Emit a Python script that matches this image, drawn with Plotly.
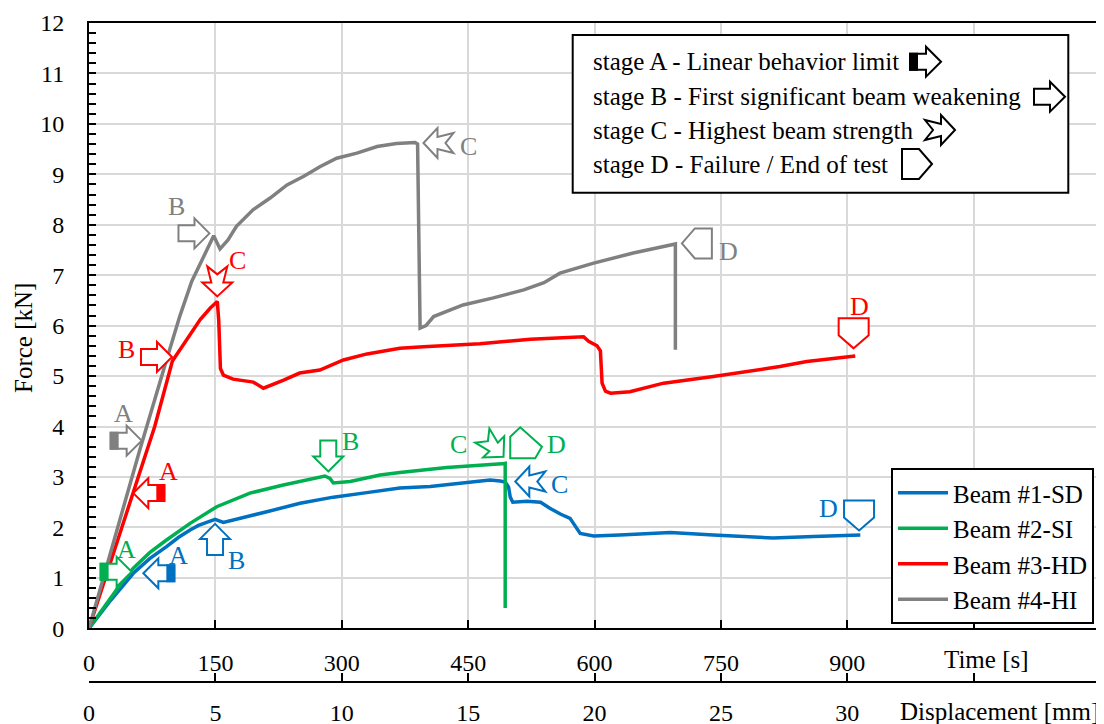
import math
import plotly.graph_objects as go

FONT = "Liberation Serif"

# ---------------- data (time in s, force in kN) ----------------
t_sd = [0, 26, 52.6, 72, 92, 106, 120, 130, 139.7, 149.6, 159.5, 167.4, 190, 211, 250.5, 290, 329.7, 369,
        405, 444, 476, 488, 494, 498, 500, 503, 520, 536, 547, 560, 571, 583, 599, 630, 662, 690, 741, 773,
        812, 860, 915.5]
f_sd = [0, 0.56, 1.09, 1.38, 1.62, 1.80, 1.95, 2.04, 2.10, 2.16, 2.10, 2.13, 2.22, 2.31, 2.48, 2.60, 2.69, 2.78,
        2.81, 2.88, 2.94, 2.92, 2.90, 2.80, 2.60, 2.50, 2.52, 2.50, 2.38, 2.26, 2.18, 1.88, 1.83, 1.85, 1.88, 1.90,
        1.85, 1.83, 1.79, 1.82, 1.85]

t_si = [0, 13, 26, 39, 52.6, 72, 92, 120, 151.6, 191, 230.7, 280, 286, 290, 310, 345.5, 369, 424.7, 490, 494, 494]
f_si = [0, 0.31, 0.62, 0.91, 1.19, 1.50, 1.75, 2.08, 2.41, 2.68, 2.84, 3.02, 2.97, 2.88, 2.91, 3.04, 3.09, 3.19,
        3.26, 3.27, 0.40]

t_hd = [0, 26, 52.6, 78, 99, 108, 120, 132, 144, 152.3, 154, 156, 159.5, 171, 195, 207, 231, 250, 274, 302,
        330, 369, 397, 464, 524, 587, 593, 603, 607, 609, 613, 619, 642, 682, 741, 773, 820, 852, 909.5]
f_hd = [0, 1.33, 2.68, 4.00, 5.30, 5.52, 5.80, 6.12, 6.35, 6.48, 6.10, 5.15, 5.02, 4.94, 4.88, 4.76, 4.92, 5.06,
        5.12, 5.32, 5.44, 5.55, 5.58, 5.64, 5.73, 5.78, 5.69, 5.60, 5.50, 4.86, 4.70, 4.66, 4.69, 4.86, 4.99,
        5.07, 5.19, 5.29, 5.40]

t_hi = [0, 30, 60, 92, 108, 122, 134, 148, 155.5, 165, 175, 195, 215, 235, 255, 274, 294, 318, 342, 365, 387, 390,
        393, 400, 409, 444, 480, 516, 540, 559, 599, 646, 696, 696]
f_hi = [0, 1.75, 3.52, 5.32, 6.20, 6.88, 7.30, 7.78, 7.52, 7.70, 7.97, 8.30, 8.53, 8.79, 8.96, 9.15, 9.32, 9.42,
        9.55, 9.61, 9.63, 9.60, 5.95, 6.00, 6.18, 6.41, 6.55, 6.71, 6.85, 7.04, 7.24, 7.44, 7.62, 5.52]

names = ["Beam #1-SD", "Beam #2-SI", "Beam #3-HD", "Beam #4-HI"]
colors = ["#0070C0", "#00B050", "#FF0000", "#808080"]

# stage markers: stage, pointing direction (deg), anchor (t, F), label position (t, F)
stages = ["A", "B", "C", "D"]
sd_dir = [180, 90, 180, -90]
sd_mark_t = [64.5, 149.6, 506, 914]
sd_mark_f = [1.09, 2.07, 2.91, 1.94]
sd_lab_t = [106, 175, 559, 878]
sd_lab_f = [1.45, 1.35, 2.86, 2.38]

si_dir = [0, -90, -45, "D2"]
si_mark_t = [50.6, 284, 492, 500]
si_mark_f = [1.12, 3.11, 3.40, 3.37]
si_lab_t = [44.7, 310, 438.5, 555]
si_lab_f = [1.56, 3.70, 3.64, 3.64]

hd_dir = [180, 0, -90, -90]
hd_mark_t = [52.6, 98.5, 152.3, 907.6]
hd_mark_f = [2.68, 5.38, 6.58, 5.55]
hd_lab_t = [94, 45, 176, 914]
hd_lab_f = [3.11, 5.52, 7.30, 6.38]

hi_dir = [0, 0, 180, 180]
hi_mark_t = [62.5, 143, 397, 703.7]
hi_mark_f = [3.72, 7.83, 9.62, 7.63]
hi_lab_t = [40.7, 104, 450, 759]
hi_lab_f = [4.26, 8.36, 9.55, 7.47]

stage_texts = ["stage A - Linear behavior limit",
               "stage B - First significant beam weakening",
               "stage C - Highest beam strength",
               "stage D - Failure / End of test"]

time_ticks = [0, 150, 300, 450, 600, 750, 900, 1050, 1200]
time_labels = ["0", "150", "300", "450", "600", "750", "900", "", ""]
disp_ticks = [0, 5, 10, 15, 20, 25, 30, 35, 40]
disp_labels = ["0", "5", "10", "15", "20", "25", "30", "", ""]

# ---------------- geometry helpers ----------------
# the page body has an 8 px margin, so the figure is drawn 8 px right and down
OFF = 8
W, H = 1104, 724
ML = 89 - OFF                 # plot left (reference px 89)
MR = W - (1100 - OFF)         # plot right (reference px 1100)
MT = 23 - OFF                 # plot top (reference px 23)
MB = H - (682 - OFF)          # displacement axis (reference px 682)
PW, PH = W - ML - MR, H - MT - MB
Y0_PX = 628.3                 # reference pixel row of F = 0


def px_x(px):
    return (px - OFF - ML) / PW


def px_y(py):
    return (H - MB - (py - OFF)) / PH


BLOCK = [(0, 0), (-15, 15), (-15, 8), (-31, 8), (-31, -8), (-15, -8), (-15, -15)]
BLOCK_TAIL = [(-31, 8), (-24, 8), (-24, -8), (-31, -8)]
NOTCH = [(0, 0), (-14, 15), (-14, 6), (-30, 10), (-22, 0), (-30, -10), (-14, -6), (-14, -15)]
PENTA = [(0, 0), (-13, 15), (-30, 15), (-30, -15), (-13, -15)]
PENTA2 = [(0, 0), (0, 21.6), (10, 31), (31.7, 11.6), (25, 0)]


def rot(pts, ang):
    a = math.radians(ang)
    c, s = math.cos(a), math.sin(a)
    return [(x * c - y * s, x * s + y * c) for x, y in pts]


def path(pts):
    return "M " + " L ".join(f"{x:.1f},{y:.1f}" for x, y in pts) + " Z"


def icon_shapes(stage, ang, ax, ay, color, xref="x", yref="y"):
    base = dict(type="path", xref=xref, yref=yref, xsizemode="pixel", ysizemode="pixel",
                xanchor=ax, yanchor=ay, layer="above")
    out = []
    if ang == "D2":
        polys = [(PENTA2, "white")]
    else:
        if stage in ("A", "B"):
            polys = [(rot(BLOCK, ang), "white")]
            if stage == "A":
                polys.append((rot(BLOCK_TAIL, ang), color))
        elif stage == "C":
            polys = [(rot(NOTCH, ang), "white")]
        else:
            polys = [(rot(PENTA, ang), "white")]
    for pts, fill in polys:
        d = dict(base)
        d.update(path=path(pts), fillcolor=fill, line=dict(color=color, width=2))
        out.append(d)
    return out


# ---------------- figure ----------------
fig = go.Figure()
for nm, tt, ff, col in zip(names, [t_sd, t_si, t_hd, t_hi], [f_sd, f_si, f_hd, f_hi], colors):
    fig.add_trace(go.Scatter(x=tt, y=ff, mode="lines", name=nm,
                             line=dict(color=col, width=3.5, shape="linear"),
                             hoverinfo="skip"))
# invisible trace so the displacement axis exists
fig.add_trace(go.Scatter(x=[None], y=[None], xaxis="x2", yaxis="y", showlegend=False, hoverinfo="skip"))

shapes = []
annotations = []
marks = [
    (colors[0], sd_dir, sd_mark_t, sd_mark_f, sd_lab_t, sd_lab_f),
    (colors[1], si_dir, si_mark_t, si_mark_f, si_lab_t, si_lab_f),
    (colors[2], hd_dir, hd_mark_t, hd_mark_f, hd_lab_t, hd_lab_f),
    (colors[3], hi_dir, hi_mark_t, hi_mark_f, hi_lab_t, hi_lab_f),
]
for col, dirs, mt, mf, lt, lf in marks:
    for st, dd, x, y, tx, ty in zip(stages, dirs, mt, mf, lt, lf):
        shapes += icon_shapes(st, dd, x, y, col)
        annotations.append(dict(x=tx, y=ty, xref="x", yref="y", text=st, showarrow=False,
                                font=dict(family=FONT, size=26, color=col),
                                xanchor="center", yanchor="middle"))

# stage legend box
shapes.append(dict(type="rect", xref="paper", yref="paper",
                   x0=px_x(572.7), x1=px_x(1068.3), y0=px_y(192.7), y1=px_y(35),
                   line=dict(color="black", width=2), fillcolor="white", layer="above"))
row_y = [61.7, 96.7, 130, 164]
icon_x = [941, 1065, 955, 932]
for st, txt, ry, ix in zip(stages, stage_texts, row_y, icon_x):
    annotations.append(dict(x=px_x(591), y=px_y(ry), xref="paper", yref="paper", text=txt,
                            showarrow=False, xanchor="left", yanchor="middle",
                            font=dict(family=FONT, size=25, color="black")))
    shapes += icon_shapes(st, 0, px_x(ix), px_y(ry), "black", xref="paper", yref="paper")

# axis titles
annotations.append(dict(x=px_x(23), y=px_y(338), xref="paper", yref="paper", text="Force [kN]",
                        textangle=-90, showarrow=False, xanchor="center", yanchor="middle",
                        font=dict(family=FONT, size=25, color="black")))
annotations.append(dict(x=px_x(986), y=px_y(659), xref="paper", yref="paper", text="Time [s]",
                        showarrow=False, xanchor="center", yanchor="middle",
                        font=dict(family=FONT, size=25, color="black")))
annotations.append(dict(x=px_x(1101), y=px_y(711), xref="paper", yref="paper", text="Displacement [mm]",
                        showarrow=False, xanchor="right", yanchor="middle",
                        font=dict(family=FONT, size=25, color="black")))

ydom0 = px_y(Y0_PX)
fig.update_layout(
    width=W, height=H,
    margin=dict(l=ML, r=MR, t=MT, b=MB, pad=0, autoexpand=False),
    paper_bgcolor="white", plot_bgcolor="white",
    font=dict(family=FONT, size=24, color="black"),
    shapes=shapes, annotations=annotations,
    showlegend=True,
    legend=dict(x=px_x(1094), xanchor="right", y=px_y(468), yanchor="top",
                bgcolor="white", bordercolor="black", borderwidth=2,
                font=dict(family=FONT, size=25, color="black"), itemwidth=50),
    xaxis=dict(range=[0, 1200], tickvals=time_ticks, ticktext=time_labels,
               showgrid=True, gridcolor="#D9D9D9", gridwidth=2, zeroline=False,
               showline=True, linecolor="black", linewidth=2, mirror=True,
               ticks="inside", ticklen=8, tickwidth=2, tickcolor="black",
               ticklabelstandoff=12, anchor="y", automargin=False),
    xaxis2=dict(range=[0, 40], tickvals=disp_ticks, ticktext=disp_labels, overlaying="x",
                anchor="free", position=0, side="bottom", showgrid=False, zeroline=False,
                showline=True, linecolor="black", linewidth=2,
                ticks="inside", ticklen=8, tickwidth=2, tickcolor="black",
                ticklabelstandoff=9, automargin=False),
    yaxis=dict(range=[0, 12], domain=[ydom0, 1], dtick=1, tick0=0,
               showgrid=True, gridcolor="#D9D9D9", gridwidth=2, zeroline=False,
               showline=True, linecolor="black", linewidth=2, mirror=True,
               ticks="inside", ticklen=7, tickwidth=2, tickcolor="black",
               ticklabelstandoff=18, automargin=False,
               minor=dict(dtick=0.2, ticks="inside", ticklen=7, tickwidth=1.5,
                          tickcolor="black", showgrid=False)),
)

fig.write_html("out.html")
